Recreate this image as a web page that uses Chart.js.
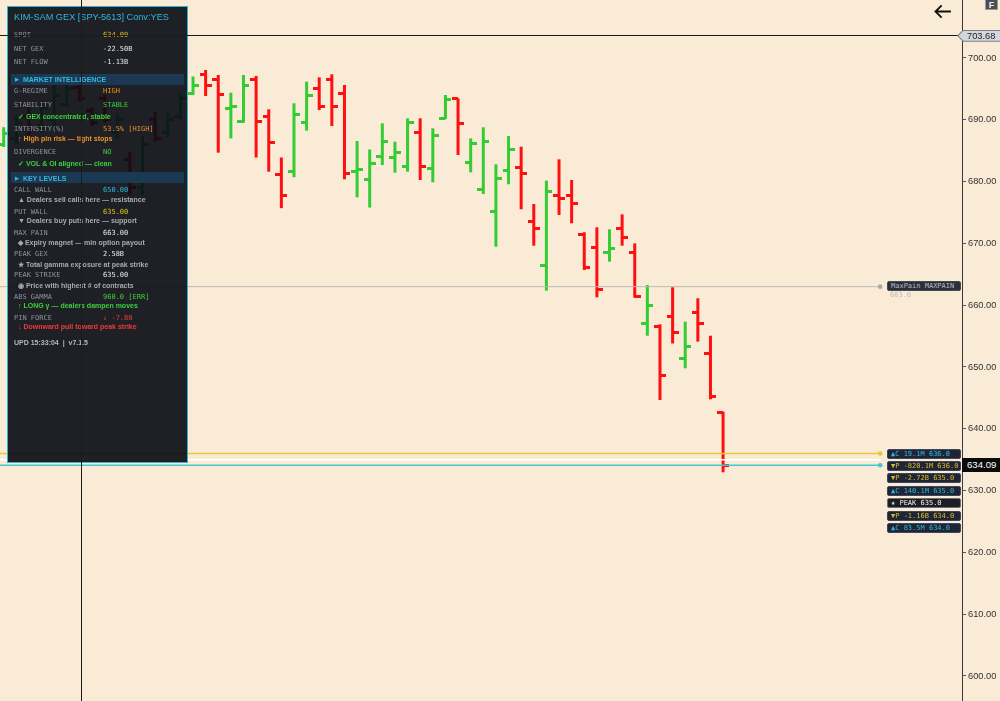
<!DOCTYPE html>
<html><head><meta charset="utf-8">
<script src="https://cdn.jsdelivr.net/npm/chart.js@4.4.1/dist/chart.umd.min.js"></script>
<style>
html,body{margin:0;padding:0;background:#faebd7;overflow:hidden;}
#wrap{position:relative;width:1000px;height:701px;overflow:hidden;}
#c{position:absolute;left:0;top:0;}
.ov{position:absolute;white-space:nowrap;line-height:10px;height:10px;}
.mono{font-family:"DejaVu Sans Mono",monospace;font-size:7px;}
.sub{font-family:"Liberation Sans",Arial,sans-serif;font-weight:bold;font-size:7px;}
.band{position:absolute;left:11px;width:173px;height:11px;background:#1b3952;}
.bandt{font-family:"Liberation Sans",Arial,sans-serif;font-weight:bold;font-size:7px;color:#34b9e2;}
.lab{color:#8d929c;}
.lvl{position:absolute;left:887px;width:74px;height:10px;box-sizing:border-box;background:#1f2535;border:1px solid #3e4659;border-radius:2px;font-family:"DejaVu Sans Mono",monospace;font-size:7px;line-height:8px;padding-left:3px;white-space:nowrap;}
.hl{position:absolute;background:#1a1a1a;}
</style>
</head><body>
<div id="wrap">
<canvas id="c" width="1000" height="701"></canvas>
<div id="ovl"></div>
</div>
<script>
// ---------- data ----------
const barIndex = [0,1,2,3,4,5,6,7,8,9,10,11,12,13,14,15,16,17,18,19,20,21,22,23,24,25,26,27,28,29,30,31,32,33,34,35,36,37,38,39,40,41,42,43,44,45,46,47,48,49,50,51,52,53,54,55,56,57];
const opens  = [686.0,687.0,690.5,689.0,690.0,692.5,695.2,691.5,693.5,688.0,683.5,679.0,690.0,688.0,690.5,694.3,697.25,696.44,691.9,689.7,696.44,690.5,681.07,681.6,689.53,695.1,696.55,694.29,681.7,680.26,684.14,683.93,682.52,687.98,682.04,690.24,693.37,683.12,678.8,675.13,681.72,682.25,673.52,666.5,677.83,677.72,671.36,669.37,668.5,672.44,668.5,657.07,656.63,658.14,651.41,658.79,652.15,642.66];
const highs  = [688.8,690.5,692.0,693.0,695.8,695.8,695.8,692.0,694.0,691.0,684.8,687.3,691.3,691.1,694.3,697.0,698.06,697.25,694.39,697.25,697.1,691.7,683.9,692.67,696.17,696.87,697.36,695.63,686.57,685.2,689.43,686.46,690.24,690.24,688.62,694.01,693.47,687.0,688.79,682.8,687.38,685.65,676.38,680.15,683.6,680.26,671.8,672.6,672.28,674.7,670.0,663.27,656.9,662.9,657.33,661.12,655.06,642.77];
const lows   = [685.6,686.0,687.5,688.0,688.7,692.0,693.0,689.0,689.5,687.0,677.8,677.8,686.5,687.2,690.0,694.0,693.85,684.68,687.0,689.53,683.9,681.6,675.7,680.7,688.24,691.59,689.0,680.37,677.46,675.8,682.69,681.44,681.6,680.26,679.89,690.13,684.3,681.5,677.99,669.47,679.56,675.52,669.63,662.35,674.6,673.25,665.7,661.28,667.04,669.63,661.2,655.06,644.66,653.8,649.79,654.1,644.77,632.96];
const closes = [687.8,689.5,688.5,692.0,694.0,695.0,693.5,689.5,690.0,690.0,679.0,686.0,687.0,690.0,693.5,695.6,695.63,694.17,692.2,695.63,689.7,686.3,677.67,690.78,694.0,692.12,692.12,681.34,682.0,682.96,686.46,684.68,689.6,682.41,687.49,693.31,689.37,686.2,686.46,680.53,685.23,681.34,672.44,678.37,677.3,676.48,666.13,662.46,669.15,670.92,661.38,659.92,648.59,655.55,653.28,656.96,645.2,634.09];
const yTicks = [600,610,620,630,640,650,660,670,680,690,700];
const maxPain = 663;
const levelPrices = [636, 635, 634.09];
const spot = 634.09;
const crossPrice = 703.68;
const gexLabels = ['▲C 19.1M 636.0','▼P -820.1M 636.0','▼P -2.72B 635.0','▲C 140.1M 635.0','★ PEAK 635.0','▼P -1.16B 634.0','▲C 83.5M 634.0'];
const gexKinds  = ['C','P','P','C','K','P','C'];

// ---------- styles ----------
const GREEN = '#33cc33', RED = '#ff1010';
const X_MIN = -0.293, X_MAX = 75.93, LEVEL_END = 69.45, CROSS_X = 6.12;

function tickImg(color, left){
  const c = document.createElement('canvas'); c.width = 12; c.height = 3;
  const g = c.getContext('2d'); g.fillStyle = color;
  g.fillRect(left ? 0 : 6, 0, 6, 3);
  return c;
}
const oG = tickImg(GREEN, true), oR = tickImg(RED, true), cG = tickImg(GREEN, false), cR = tickImg(RED, false);
const up = i => closes[i] >= opens[i];

function levelLine(v, color, w, dot){
  return {type:'line', data:[{x:X_MIN-1,y:v},{x:LEVEL_END,y:v}], borderColor:color, borderWidth:w,
    pointRadius: c => (dot && c.dataIndex===1) ? 2.3 : 0, pointBackgroundColor: dot || color, pointBorderWidth:0, order:0};
}

const chart = new Chart(document.getElementById('c'), {
  type:'bar',
  data:{datasets:[
    levelLine(maxPain, '#bdbab4', 1, '#a9a9a9'),
    levelLine(levelPrices[0], '#e6c832', 1.6, '#e6c832'),
    levelLine(levelPrices[1], '#ffffff', 1.6, null),
    levelLine(levelPrices[2], '#3fc9d4', 1.6, '#3fc9d4'),
    {type:'bar', data: barIndex.map(i => ({x:i, y:[lows[i], highs[i]]})),
      backgroundColor: barIndex.map(i => up(i) ? GREEN : RED), barThickness:3, inflateAmount:0, order:3},
    {type:'scatter', data: barIndex.map(i => ({x:i, y:opens[i]})), pointStyle: c => up(c.dataIndex) ? oG : oR, pointRadius:3, order:2},
    {type:'scatter', data: barIndex.map(i => ({x:i, y:closes[i]})), pointStyle: c => up(c.dataIndex) ? cG : cR, pointRadius:3, order:2}
  ]},
  options:{
    responsive:false, animation:false, events:[],
    layout:{padding:0, autoPadding:false},
    plugins:{legend:{display:false}, tooltip:{enabled:false}},
    scales:{
      x:{type:'linear', display:false, min:X_MIN, max:X_MAX, offset:false, grid:{display:false}},
      y:{type:'linear', position:'right', min:595.95, max:709.385,
         afterBuildTicks: s => { s.ticks = yTicks.map(v => ({value:v})); },
         afterFit: s => { s.width = 38; s.paddingTop = 0; s.paddingBottom = 0; },
         grid:{drawOnChartArea:false, drawTicks:true, tickLength:4, tickColor:'#555', tickWidth:1},
         border:{display:true, color:'#3a3a3a', width:1},
         ticks:{padding:2, color:'#333', font:{family:'"Liberation Sans", Arial, sans-serif', size:9.3}, callback: v => Number(v).toFixed(2)}
      }
    }
  }
});

// ---------- overlays ----------
const ov = document.getElementById('ovl');
const ys = chart.scales.y, xs = chart.scales.x;
function el(tag, cls, css, html){
  const e = document.createElement(tag); if (cls) e.className = cls;
  Object.assign(e.style, css); if (html !== undefined) e.innerHTML = html; ov.appendChild(e); return e;
}
// panel
el('div', null, {position:'absolute',left:'7px',top:'6px',width:'181px',height:'457px',boxSizing:'border-box',background:'rgba(8,11,20,0.91)',border:'1px solid #2bb3d6'}, '');
el('div','ov',{left:'14px',top:(17.3-5)+'px',fontFamily:'"Liberation Sans",Arial,sans-serif',fontSize:'9.2px',color:'#2fb8dc'},'KIM-SAM GEX [SPY-5613] Conv:YES');

const rows = [
  ['r',35,'SPOT','634.09','#dcc01e'],
  ['r',49,'NET GEX','-22.50B','#e6e6e6'],
  ['r',62.3,'NET FLOW','-1.13B','#e6e6e6'],
  ['b',79.2,'MARKET INTELLIGENCE'],
  ['r',91.3,'G-REGIME','HIGH','#f39212'],
  ['r',105.3,'STABILITY','STABLE','#3cd03c'],
  ['s',117.3,'✓ GEX concentrated, stable','#3cd03c'],
  ['r',129,'INTENSITY(%)','53.5% [HIGH]','#e8922c'],
  ['s',139.3,'↑ High pin risk — tight stops','#e8922c'],
  ['r',151.7,'DIVERGENCE','NO','#3cd03c'],
  ['s',163.7,'✓ VOL &amp; OI aligned — clean','#3cd03c'],
  ['b',177.8,'KEY LEVELS'],
  ['r',190.3,'CALL WALL','650.00','#2fb5de'],
  ['s',199.7,'▲ Dealers sell calls here — resistance','#a6aab2'],
  ['r',211.7,'PUT WALL','635.00','#dcc01e'],
  ['s',221,'▼ Dealers buy puts here — support','#a6aab2'],
  ['r',232.5,'MAX PAIN','663.00','#e6e6e6'],
  ['s',243.3,'◆ Expiry magnet — min option payout','#a6aab2'],
  ['r',254,'PEAK GEX','2.58B','#e6e6e6'],
  ['s',264.7,'★ Total gamma exposure at peak strike','#a6aab2'],
  ['r',275.3,'PEAK STRIKE','635.00','#e6e6e6'],
  ['s',285.7,'◉ Price with highest # of contracts','#a6aab2'],
  ['r',296.7,'ABS GAMMA','960.0 [ERR]','#3cd03c'],
  ['s',306.3,'↑ LONG γ — dealers dampen moves','#3cd03c'],
  ['r',318,'PIN FORCE','↓ -7.80','#f03a3a'],
  ['s',327.3,'↓ Downward pull toward peak strike','#f03a3a'],
  ['u',343.3,'UPD 15:33:04 &nbsp;|&nbsp; v7.1.5','#b4b8c0']
];
rows.forEach(r => {
  const top = (r[1]-5)+'px';
  if (r[0]==='r'){
    el('div','ov mono lab',{left:'14px',top},r[2]);
    el('div','ov mono',{left:'103px',top,color:r[4]},r[3]);
  } else if (r[0]==='b'){
    el('div','band',{top:(r[1]-5.5)+'px'},'');
    el('div','ov bandt',{left:'15px',top},'<span style="font-size:5px;vertical-align:1px">▶</span>&nbsp; '+r[2]);
  } else if (r[0]==='s'){
    el('div','ov sub',{left:'18px',top,color:r[3]},r[2]);
  } else {
    el('div','ov sub',{left:'14px',top,color:r[3]},r[2]);
  }
});

// crosshair
const cx = xs.getPixelForValue(CROSS_X), cy = ys.getPixelForValue(crossPrice);
el('div','hl',{left:Math.round(cx)+'px',top:'0px',width:'1px',height:'701px'},'');
el('div','hl',{left:'0px',top:Math.round(cy)+'px',width:'958px',height:'1px'},'');
// crosshair price tag
const tagTop = cy - 5.5;
el('div',null,{position:'absolute',left:'957px',top:tagTop+'px',width:'43px',height:'12px',background:'#7d7f84',clipPath:'polygon(0 50%,6px 0,100% 0,100% 100%,6px 100%)'},'');
el('div',null,{position:'absolute',left:'958.5px',top:(tagTop+1)+'px',width:'42px',height:'10px',background:'#d3d7dd',clipPath:'polygon(0 50%,5px 0,100% 0,100% 100%,5px 100%)'},'');
el('div','ov',{left:'967px',top:(tagTop+1)+'px',fontFamily:'"Liberation Sans",Arial,sans-serif',fontSize:'9.3px',color:'#222'},crossPrice.toFixed(2));

// spot price tag
const sy = ys.getPixelForValue(spot);
el('div',null,{position:'absolute',left:'962px',top:(sy-7)+'px',width:'38px',height:'14px',background:'#0b0b0b'},'');
el('div','ov',{left:'967px',top:(sy-5)+'px',fontFamily:'"Liberation Sans",Arial,sans-serif',fontSize:'9.6px',color:'#fff'},spot.toFixed(2));

// max pain label
const my = ys.getPixelForValue(maxPain);
el('div','lvl',{top:(my-5.5)+'px',background:'#2b2f3a',borderColor:'#454a57',color:'#b9bcc4'},'MaxPain MAXPAIN');
el('div','ov mono',{left:'890px',top:(my+3)+'px',color:'#c4bcb0'},maxPain.toFixed(1));

// GEX level labels
const y0 = ys.getPixelForValue(levelPrices[0]);
gexLabels.forEach((t,i) => {
  const k = gexKinds[i];
  const css = {top:(y0 - 5 + i*12.4)+'px', color: k==='C' ? '#2fb6dc' : (k==='P' ? '#dcbc2c' : '#f2f2f2')};
  if (k==='K'){ css.background = '#1c1e25'; css.borderColor = '#6a6e78'; }
  el('div','lvl',css,t);
});

// top-right widgets
const ns = 'http://www.w3.org/2000/svg';
const svg = document.createElementNS(ns,'svg');
svg.setAttribute('width','20'); svg.setAttribute('height','16');
Object.assign(svg.style,{position:'absolute',left:'933px',top:'3px'});
svg.innerHTML = '<path d="M2.5 8.5 H17 M8 3 L2.5 8.5 L8 14" fill="none" stroke="#111" stroke-width="1.8" stroke-linecap="square"/>';
ov.appendChild(svg);
el('div',null,{position:'absolute',left:'985px',top:'-3px',width:'13px',height:'13px',background:'#4a4c52',border:'1px solid #9a9a9a',boxSizing:'border-box',color:'#eee',font:'bold 9px "Liberation Sans",Arial,sans-serif',lineHeight:'14px',textAlign:'center'},'F');
</script>
</body></html>
